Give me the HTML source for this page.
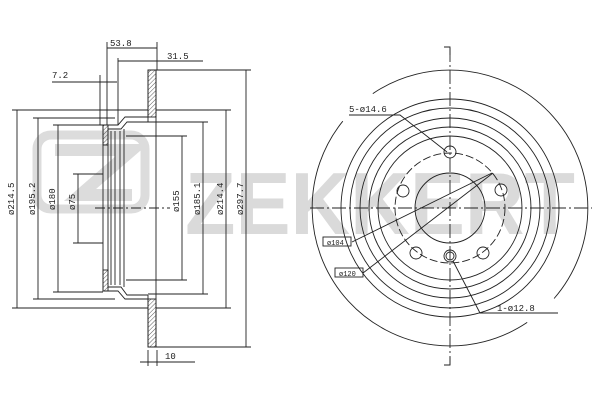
<!DOCTYPE html>
<html><head><meta charset="utf-8"><style>
html,body{margin:0;padding:0;background:#fff}
svg{display:block}
text{font-family:"Liberation Mono","DejaVu Sans Mono",monospace;font-size:9px;fill:#222}
</style></head><body>
<svg width="600" height="400" viewBox="0 0 600 400" xmlns="http://www.w3.org/2000/svg">
<defs>
<pattern id="h" width="3" height="3" patternUnits="userSpaceOnUse" patternTransform="rotate(45)">
<line x1="0" y1="0" x2="0" y2="3" stroke="#333" stroke-width="0.8"/></pattern>
</defs>
<g fill="none" stroke="#dcdcdc" stroke-width="9">
<rect x="37" y="135" width="108" height="74" rx="14"/>
</g>
<path d="M55 150 H132 L80 195 H132" fill="none" stroke="#dcdcdc" stroke-width="12"/>
<text x="185" y="234" textLength="390" lengthAdjust="spacingAndGlyphs" style="fill:#dadada;font-family:'Liberation Sans',sans-serif;font-weight:bold;font-size:88px">ZEKKERT</text>

<g stroke="#222" stroke-width="0.9" fill="none">
<rect x="148" y="70" width="8" height="47" fill="url(#h)"/>
<rect x="148" y="299" width="8" height="48" fill="url(#h)"/>
<path d="M156 70 V347 H148 V299 H125 L118 291 H103 V125 H118 L125 117 H148 V70 Z"/>
<path d="M148 122 H127 L121 129 H108 V287 H121 L127 295 H148" />
<path d="M148 117 V122 M148 295 V299"/>
<rect x="103" y="125" width="5" height="20" fill="url(#h)"/>
<rect x="103" y="270" width="5" height="21" fill="url(#h)"/>
<path d="M111 131 V285 M115 131 V285 M120 131 V285 M124 129 V287"/>
<path d="M107 42 V125 M157 42 V70 M107 48 H157"/>
<path d="M118 58 V125 M118 61 H203"/>
<path d="M100 75 V125 M52 82 H117"/>
<path d="M148 350 V366 M157 350 V366 M140 362 H195"/>
<path d="M17 110 V308 M12 110 H148 M12 308 H148"/>
<path d="M38 118 V299 M33 118 H115 M33 299 H115"/>
<path d="M58 125 V292 M53 125 H103 M53 292 H103"/>
<path d="M78 174 V243 M73 174 H103 M73 243 H103"/>
<path d="M182 136 V280 M126 136 H187 M126 280 H187"/>
<path d="M203 122 V294 M148 122 H208 M148 294 H208"/>
<path d="M226 110 V308 M156 110 H231 M156 308 H231"/>
<path d="M246 70 V347 M156 70 H251 M156 347 H251"/>
<path d="M95 208 H170" stroke-dasharray="10 3 2 3"/>

<path d="M372.8 93.6 A138 138 0 0 1 554.1 298.5" />
<path d="M527.2 322.4 A138 138 0 0 1 342.8 121.2" />
<circle cx="450" cy="208" r="109"/>
<circle cx="450" cy="208" r="100"/>
<circle cx="450" cy="208" r="90"/>
<circle cx="450" cy="208" r="81"/>
<circle cx="450" cy="208" r="72"/>
<circle cx="450" cy="208" r="55" stroke-dasharray="8 3"/>
<circle cx="450" cy="208" r="35"/>
<circle cx="450" cy="152" r="6"/>
<circle cx="403" cy="191" r="6"/>
<circle cx="501" cy="190" r="6"/>
<circle cx="416" cy="253" r="6"/>
<circle cx="483" cy="253" r="6"/>
<circle cx="450" cy="256" r="6"/><circle cx="450" cy="256" r="4"/>
<path d="M450 48 V365" stroke-dasharray="14 3 2 3"/>
<path d="M310 208 H592" stroke-dasharray="14 3 2 3"/>
<path d="M444 47 H450 V55 M444 365 H450 V357"/>
<path d="M349 115 H400 L447 152"/>
<path d="M352 242 L492 173"/>
<path d="M363 273 L493 173"/>
<path d="M453 261 L480 313 H558"/>
<rect x="323" y="237" width="28" height="9"/>
<rect x="335" y="268" width="28" height="9"/>
</g>
<text x="110" y="46">53.8</text>
<text x="167" y="59">31.5</text>
<text x="52" y="78">7.2</text>
<text x="165" y="359">10</text>
<g>
<text transform="translate(14,215) rotate(-90)">ø214.5</text>
<text transform="translate(35,215) rotate(-90)">ø195.2</text>
<text transform="translate(55,210) rotate(-90)">ø180</text>
<text transform="translate(75,210) rotate(-90)">ø75</text>
<text transform="translate(179,212) rotate(-90)">ø155</text>
<text transform="translate(200,215) rotate(-90)">ø185.1</text>
<text transform="translate(223,215) rotate(-90)">ø214.4</text>
<text transform="translate(243,215) rotate(-90)">ø297.7</text>
</g>
<text x="349" y="112">5-ø14.6</text>
<text x="327" y="245" style="font-size:7px">ø104</text>
<text x="339" y="276" style="font-size:7px">ø120</text>
<text x="497" y="311">1-ø12.8</text>
</svg>
</body></html>
